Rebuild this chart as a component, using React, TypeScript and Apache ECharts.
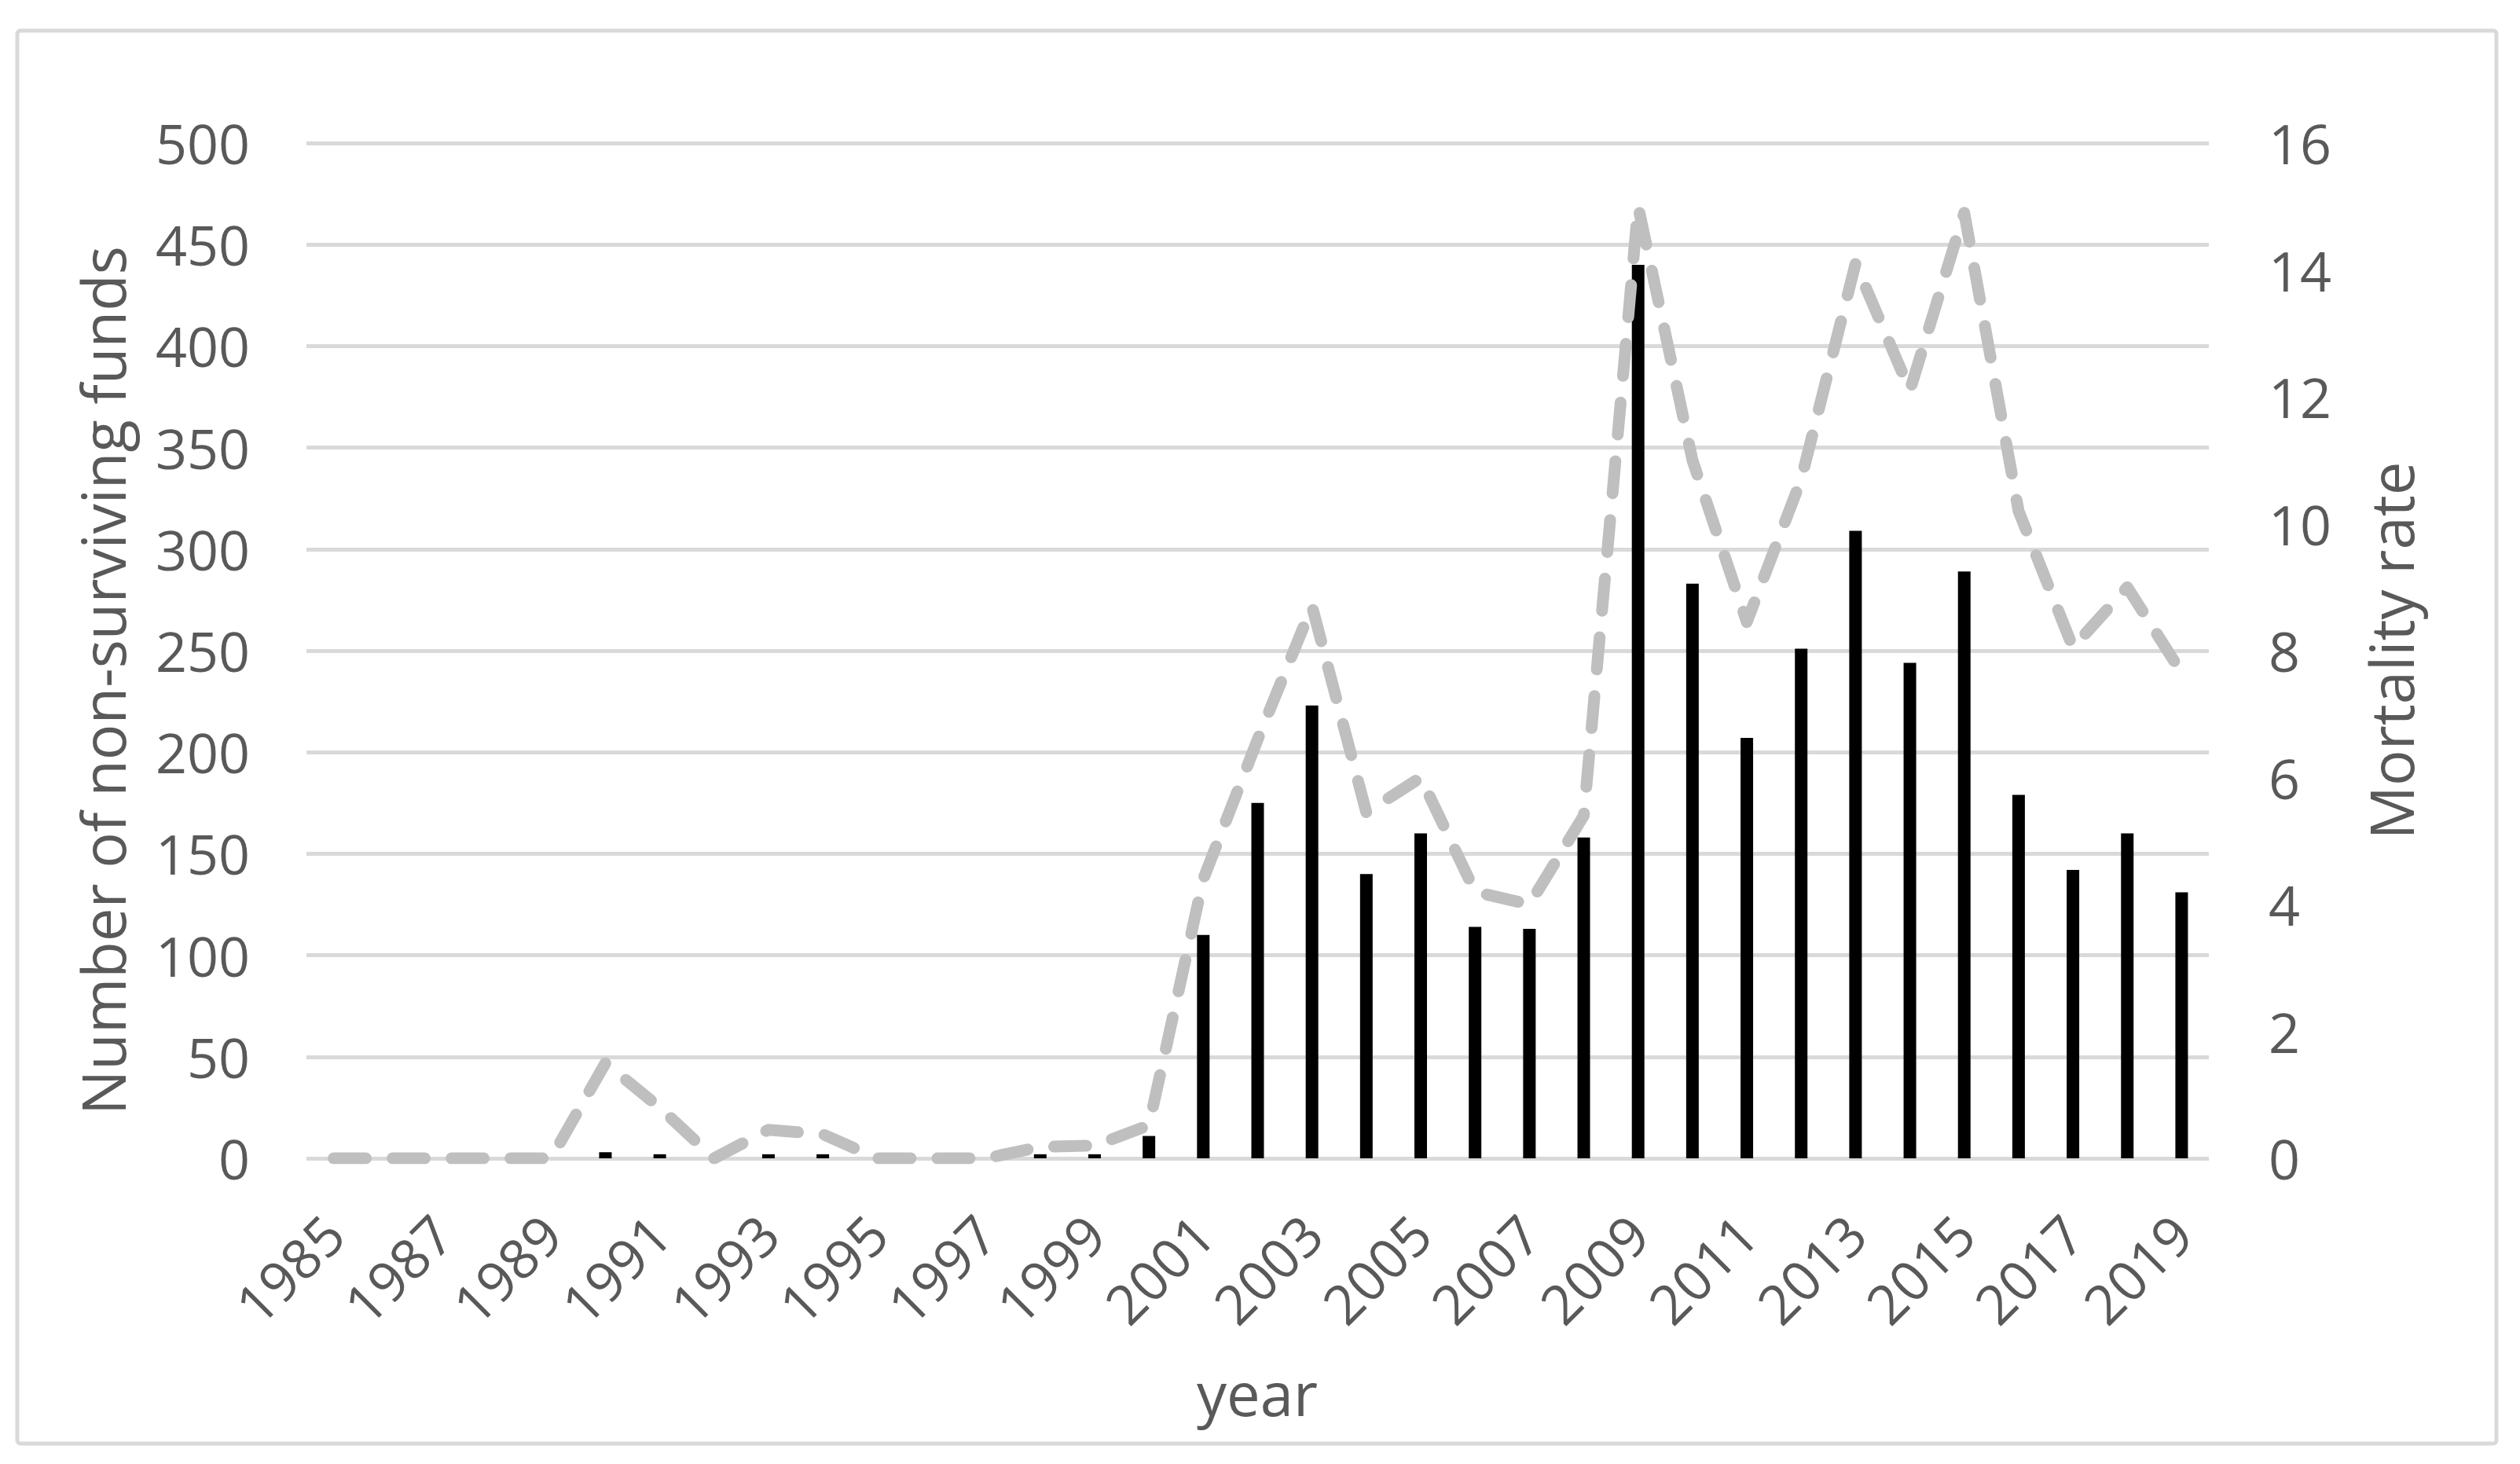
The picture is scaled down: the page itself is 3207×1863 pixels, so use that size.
import React, { useEffect, useRef } from "react";
import * as echarts from "echarts";

const years: string[] = [
  "1985", "1986", "1987", "1988", "1989", "1990", "1991", "1992", "1993", "1994",
  "1995", "1996", "1997", "1998", "1999", "2000", "2001", "2002", "2003", "2004",
  "2005", "2006", "2007", "2008", "2009", "2010", "2011", "2012", "2013", "2014",
  "2015", "2016", "2017", "2018", "2019",
];

const nonSurvivingFunds: number[] = [
  0, 0, 0, 0, 0, 3, 2, 0, 2, 2,
  0, 0, 0, 2, 2, 11, 110, 175, 223, 140,
  160, 114, 113, 158, 440, 283, 207, 251, 309, 244,
  289, 179, 142, 160, 131,
];

const mortalityRate: number[] = [
  0, 0, 0, 0, 0, 1.5, 0.8, 0, 0.45, 0.38,
  0, 0, 0, 0.18, 0.2, 0.52, 4.4, 6.6, 8.7, 5.45,
  6.0, 4.2, 4.0, 5.4, 15.0, 11.0, 8.45, 10.7, 14.1, 12.1,
  14.9, 10.2, 8.05, 9.0, 7.65,
];

const leftAxisTitle = "Number of non-surviving funds";
const rightAxisTitle = "Mortality rate";
const xAxisTitle = "year";

const FONT = '"Open Sans", sans-serif';
const TEXT = "#595959";
const GRID = "#d9d9d9";

export default function App() {
  const ref = useRef<HTMLDivElement>(null);

  useEffect(() => {
    document.body.style.margin = "0";
    const chart = echarts.init(ref.current as HTMLDivElement, null, { renderer: "svg" });
    chart.setOption({
      animation: false,
      backgroundColor: "#ffffff",
      grid: { left: 390, right: 396, top: 182, bottom: 389 },
      xAxis: {
        type: "category",
        data: years,
        boundaryGap: true,
        axisLine: { show: false },
        axisTick: { show: false },
        splitLine: { show: false },
        axisLabel: {
          interval: 1,
          rotate: 45,
          margin: 84,
          fontSize: 70,
          fontFamily: FONT,
          color: TEXT,
        },
      },
      yAxis: [
        {
          type: "value",
          position: "left",
          min: 0,
          max: 500,
          interval: 50,
          axisLine: { show: false },
          axisTick: { show: false },
          axisLabel: { margin: 72, fontSize: 70, fontFamily: FONT, color: TEXT },
          splitLine: { show: true, lineStyle: { color: GRID, width: 5 } },
        },
        {
          type: "value",
          position: "right",
          min: 0,
          max: 16,
          interval: 2,
          axisLine: { show: false },
          axisTick: { show: false },
          axisLabel: { margin: 76, fontSize: 70, fontFamily: FONT, color: TEXT },
          splitLine: { show: false },
        },
      ],
      series: [
        {
          name: "Number of non-surviving funds",
          type: "bar",
          data: nonSurvivingFunds,
          barWidth: 16,
          itemStyle: { color: "#000000" },
          z: 2,
        },
        {
          name: "Mortality rate",
          type: "line",
          yAxisIndex: 1,
          data: mortalityRate,
          symbol: "none",
          smooth: false,
          lineStyle: { color: "#bfbfbf", width: 15, type: [41, 34], cap: "round", join: "round" },
          z: 3,
        },
      ],
      graphic: [
        {
          type: "rect",
          silent: true,
          z: -10,
          shape: { x: 22, y: 39, width: 3155, height: 1798, r: 4 },
          style: { fill: "transparent", stroke: GRID, lineWidth: 5 },
        },
        {
          type: "text",
          x: 130,
          y: 866,
          rotation: Math.PI / 2,
          style: {
            text: leftAxisTitle,
            fontSize: 76,
            fontFamily: FONT,
            fill: TEXT,
            align: "center",
            verticalAlign: "middle",
          },
        },
        {
          type: "text",
          x: 3042,
          y: 828,
          rotation: Math.PI / 2,
          style: {
            text: rightAxisTitle,
            fontSize: 76,
            fontFamily: FONT,
            fill: TEXT,
            align: "center",
            verticalAlign: "middle",
          },
        },
        {
          type: "text",
          x: 1600,
          y: 1772,
          style: {
            text: xAxisTitle,
            fontSize: 76,
            fontFamily: FONT,
            fill: TEXT,
            align: "center",
            verticalAlign: "middle",
          },
        },
      ],
    });
    return () => chart.dispose();
  }, []);

  return (
    <div
      ref={ref}
      style={{ position: "absolute", left: 0, top: 0, width: 3207, height: 1863 }}
    />
  );
}
